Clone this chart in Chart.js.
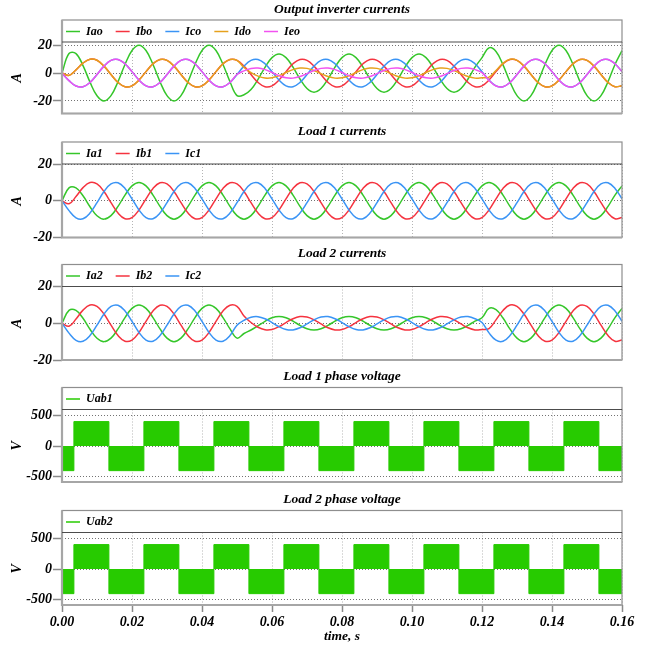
<!DOCTYPE html>
<html>
<head>
<meta charset="utf-8">
<script src="https://cdn.jsdelivr.net/npm/chart.js@4.4.0/dist/chart.umd.min.js"></script>
<style>
html, body { margin: 0; padding: 0; background: #fff; }
#wrap { position: relative; width: 649px; height: 648px; }
#wrap canvas { position: absolute; left: 0; top: 0; }
</style>
</head>
<body>
<div id="wrap">
<canvas id="p1" width="649" height="648"></canvas>
<canvas id="p2" width="649" height="648"></canvas>
<canvas id="p3" width="649" height="648"></canvas>
<canvas id="p4" width="649" height="648"></canvas>
<canvas id="p5" width="649" height="648"></canvas>
</div>
<script>
// currents, one sample every 2 ms (0 .. 0.16 s)
var ia1 = [
    0, 7.02, 7.0, 2.69, -3.24, -8.14, -10, -8.09, -3.09, 3.09,
    8.09, 10, 8.09, 3.09, -3.09, -8.09, -10, -8.09, -3.09, 3.09,
    8.09, 10, 8.09, 3.09, -3.09, -8.09, -10, -8.09, -3.09, 3.09,
    8.09, 10, 8.09, 3.09, -3.09, -8.09, -10, -8.09, -3.09, 3.09,
    8.09, 10, 8.09, 3.09, -3.09, -8.09, -10, -8.09, -3.09, 3.09,
    8.09, 10, 8.09, 3.09, -3.09, -8.09, -10, -8.09, -3.09, 3.09,
    8.09, 10, 8.09, 3.09, -3.09, -8.09, -10, -8.09, -3.09, 3.09,
    8.09, 10, 8.09, 3.09, -3.09, -8.09, -10, -8.09, -3.09, 3.09,
    8.09
];
var ib1 = [
    0, -1.64, 2.28, 7.14, 9.95, 9.2, 5, -1.05, -6.69, -9.78,
    -9.14, -5, 1.05, 6.69, 9.78, 9.14, 5, -1.05, -6.69, -9.78,
    -9.14, -5, 1.05, 6.69, 9.78, 9.14, 5, -1.05, -6.69, -9.78,
    -9.14, -5, 1.05, 6.69, 9.78, 9.14, 5, -1.05, -6.69, -9.78,
    -9.14, -5, 1.05, 6.69, 9.78, 9.14, 5, -1.05, -6.69, -9.78,
    -9.14, -5, 1.05, 6.69, 9.78, 9.14, 5, -1.05, -6.69, -9.78,
    -9.14, -5, 1.05, 6.69, 9.78, 9.14, 5, -1.05, -6.69, -9.78,
    -9.14, -5, 1.05, 6.69, 9.78, 9.14, 5, -1.05, -6.69, -9.78,
    -9.14
];
var ic1 = [
    0, -5.38, -9.28, -9.83, -6.71, -1.05, 5, 9.14, 9.78, 6.69,
    1.05, -5, -9.14, -9.78, -6.69, -1.05, 5, 9.14, 9.78, 6.69,
    1.05, -5, -9.14, -9.78, -6.69, -1.05, 5, 9.14, 9.78, 6.69,
    1.05, -5, -9.14, -9.78, -6.69, -1.05, 5, 9.14, 9.78, 6.69,
    1.05, -5, -9.14, -9.78, -6.69, -1.05, 5, 9.14, 9.78, 6.69,
    1.05, -5, -9.14, -9.78, -6.69, -1.05, 5, 9.14, 9.78, 6.69,
    1.05, -5, -9.14, -9.78, -6.69, -1.05, 5, 9.14, 9.78, 6.69,
    1.05, -5, -9.14, -9.78, -6.69, -1.05, 5, 9.14, 9.78, 6.69,
    1.05
];
var ia2 = [
    0, 7.02, 7.0, 2.69, -3.24, -8.14, -10, -8.09, -3.09, 3.09,
    8.09, 10, 8.09, 3.09, -3.09, -8.09, -10, -8.09, -3.09, 3.09,
    8.09, 10, 8.09, 3.09, -3.09, -8.09, -5.58, -3.68, -1.40, 1.05,
    2.99, 3.7, 2.99, 1.14, -1.14, -2.99, -3.7, -2.99, -1.14, 1.14,
    2.99, 3.7, 2.99, 1.14, -1.14, -2.99, -3.7, -2.99, -1.14, 1.14,
    2.99, 3.7, 2.99, 1.14, -1.14, -2.99, -3.7, -2.99, -1.14, 1.14,
    2.99, 8.12, 7.40, 2.83, -3.18, -8.09, -10, -8.09, -3.09, 3.09,
    8.09, 10, 8.09, 3.09, -3.09, -8.09, -10, -8.09, -3.09, 3.09,
    8.09
];
var ib2 = [
    0, -1.64, 2.28, 7.14, 9.95, 9.2, 5, -1.05, -6.69, -9.78,
    -9.14, -5, 1.05, 6.69, 9.78, 9.14, 5, -1.05, -6.69, -9.78,
    -9.14, -5, 1.05, 6.69, 9.78, 9.14, 3.97, 0.39, -2.19, -3.51,
    -3.38, -1.85, 0.39, 2.48, 3.62, 3.38, 1.85, -0.39, -2.48, -3.62,
    -3.38, -1.85, 0.39, 2.48, 3.62, 3.38, 1.85, -0.39, -2.48, -3.62,
    -3.38, -1.85, 0.39, 2.48, 3.62, 3.38, 1.85, -0.39, -2.48, -3.62,
    -3.38, -2.88, 1.83, 6.98, 9.88, 9.14, 5, -1.05, -6.69, -9.78,
    -9.14, -5, 1.05, 6.69, 9.78, 9.14, 5, -1.05, -6.69, -9.78,
    -9.14
];
var ic2 = [
    0, -5.38, -9.28, -9.83, -6.71, -1.05, 5, 9.14, 9.78, 6.69,
    1.05, -5, -9.14, -9.78, -6.69, -1.05, 5, 9.14, 9.78, 6.69,
    1.05, -5, -9.14, -9.78, -6.69, -1.05, 1.61, 3.29, 3.59, 2.48,
    0.39, -1.85, -3.38, -3.62, -2.48, -0.39, 1.85, 3.38, 3.62, 2.48,
    0.39, -1.85, -3.38, -3.62, -2.48, -0.39, 1.85, 3.38, 3.62, 2.48,
    0.39, -1.85, -3.38, -3.62, -2.48, -0.39, 1.85, 3.38, 3.62, 2.48,
    0.39, -5.24, -9.23, -9.81, -6.69, -1.05, 5, 9.14, 9.78, 6.69,
    1.05, -5, -9.14, -9.78, -6.69, -1.05, 5, 9.14, 9.78, 6.69,
    1.05
];
// common leg of the inverter
var iao = [
    0, 14.04, 14.0, 5.38, -6.48, -16.28, -20, -16.18, -6.18, 6.18,
    16.18, 20, 16.18, 6.18, -6.18, -16.18, -20, -16.18, -6.18, 6.18,
    16.18, 20, 16.18, 6.18, -6.18, -16.18, -15.58, -11.77, -4.49, 4.14,
    11.08, 13.7, 11.08, 4.23, -4.23, -11.08, -13.7, -11.08, -4.23, 4.23,
    11.08, 13.7, 11.08, 4.23, -4.23, -11.08, -13.7, -11.08, -4.23, 4.23,
    11.08, 13.7, 11.08, 4.23, -4.23, -11.08, -13.7, -11.08, -4.23, 4.23,
    11.08, 18.12, 15.49, 5.92, -6.27, -16.18, -20, -16.18, -6.18, 6.18,
    16.18, 20, 16.18, 6.18, -6.18, -16.18, -20, -16.18, -6.18, 6.18,
    16.18
];
// the other inverter legs carry the load phase currents: Ibo=Ib1, Ico=Ic1, Ido=Ib2, Ieo=Ic2

// phase voltage blocks: switching instants and levels (same for both loads)
var uabTimes = [0, 0.0034, 0.0134, 0.0234, 0.0334, 0.0434, 0.0534, 0.0634, 0.0734,
    0.0834, 0.0934, 0.1034, 0.1134, 0.1234, 0.1334, 0.1434, 0.1534, 0.16];
var uabLevels = [-400, 400, -400, 400, -400, 400, -400, 400, -400,
    400, -400, 400, -400, 400, -400, 400, -400, -400];

var ampTicks = [-20, 0, 20];
var voltTicks = [-500, 0, 500];
var timeTicks = [0, 0.02, 0.04, 0.06, 0.08, 0.10, 0.12, 0.14, 0.16];

var times = ia1.map(function (v, i) { return (i * 2) / 1000; });

var FONT = "'Liberation Serif', 'Times New Roman', serif";
var GREEN = '#35c62a';
var RED = '#f5333f';
var BLUE = '#3a94f5';
var ORANGE = '#e6a11c';
var MAGENTA = '#f252f0';
var FILLGREEN = '#27cb00';

// draws the grey box round legend + plot, the separator line and the legend row
var frameLegend = {
    id: 'frameLegend',
    afterDraw: function (chart) {
        var ctx = chart.ctx;
        var a = chart.chartArea;
        var top = a.top - 22;
        ctx.save();
        ctx.lineWidth = 1.2;
        ctx.strokeStyle = '#8e8e8e';
        ctx.strokeRect(a.left, top, a.right - a.left, a.bottom - top);
        ctx.lineWidth = 2.2;
        ctx.strokeStyle = '#a6a6a6';
        ctx.beginPath();
        ctx.moveTo(a.left, top);
        ctx.lineTo(a.left, a.bottom + 1);
        ctx.moveTo(a.left, a.bottom);
        ctx.lineTo(a.right, a.bottom);
        ctx.stroke();
        ctx.lineWidth = 1.2;
        ctx.strokeStyle = '#4c4c4c';
        ctx.beginPath();
        ctx.moveTo(a.left, a.top);
        ctx.lineTo(a.right, a.top);
        ctx.stroke();

        ctx.font = 'italic bold 12px ' + FONT;
        ctx.textBaseline = 'middle';
        ctx.textAlign = 'left';
        var x = a.left + 4;
        var y = a.top - 10.5;
        chart.data.datasets.forEach(function (ds) {
            ctx.strokeStyle = ds.borderColor;
            ctx.lineWidth = 1.5;
            ctx.beginPath();
            ctx.moveTo(x, y);
            ctx.lineTo(x + 14, y);
            ctx.stroke();
            ctx.fillStyle = '#000';
            ctx.fillText(ds.label, x + 20, y);
            x += 20 + ctx.measureText(ds.label).width + 13;
        });
        ctx.restore();
    }
};

function boldItalic(size, lh) {
    var f = { family: FONT, size: size, weight: 'bold', style: 'italic' };
    if (lh) {
        f.lineHeight = lh;
    }
    return f;
}

function makePanel(canvasId, p) {
    var last = !!p.xTitle;
    var xH = last ? 41 : 0;
    var xScale = {
        type: 'linear',
        min: 0,
        max: 0.16,
        afterBuildTicks: function (s) { s.ticks = timeTicks.map(function (v) { return { value: v }; }); },
        afterFit: function (s) { s.height = xH; },
        ticks: {
            display: last,
            color: '#000',
            font: boldItalic(14),
            padding: 1.5,
            maxRotation: 0,
            callback: function (v) { return Number(v).toFixed(2); }
        },
        grid: {
            color: '#b4b4b4',
            lineWidth: 1,
            drawTicks: last,
            tickLength: 7,
            tickColor: '#8a8a8a',
            tickWidth: 1.5,
            tickBorderDash: []
        },
        border: { display: false, dash: [1, 2] },
        title: {
            display: last,
            text: p.xTitle || '',
            color: '#000',
            font: boldItalic(13.5, '14px'),
            padding: { top: 0, bottom: 2.3 }
        }
    };
    var yScale = {
        min: p.yMin,
        max: p.yMax,
        afterBuildTicks: function (s) { s.ticks = p.yTicks.map(function (v) { return { value: v }; }); },
        afterFit: function (s) { s.width = 62; },
        ticks: {
            color: '#000',
            font: boldItalic(14),
            padding: 1,
            callback: function (v) { return String(v); }
        },
        grid: {
            color: '#737373',
            lineWidth: 1,
            tickLength: 9,
            tickColor: '#8a8a8a',
            tickWidth: 1.5,
            tickBorderDash: []
        },
        border: { display: false, dash: [1, 2] },
        title: {
            display: true,
            text: p.yTitle,
            color: '#000',
            font: boldItalic(14, '16px'),
            padding: { top: 9.5, bottom: 0 }
        }
    };
    return new Chart(document.getElementById(canvasId), {
        type: 'line',
        data: { labels: times, datasets: p.datasets },
        options: {
            responsive: false,
            animation: false,
            events: [],
            layout: { padding: { top: p.sep - 43, bottom: 648 - p.bottom - xH, left: 0, right: 27 } },
            elements: {
                point: { radius: 0 },
                line: { borderWidth: 1.5, tension: 0.4 }
            },
            plugins: {
                legend: { display: false },
                tooltip: { enabled: false },
                title: {
                    display: true,
                    text: p.title,
                    fullSize: false,
                    color: '#000',
                    font: boldItalic(13.5, '14px'),
                    padding: { top: 3.5, bottom: 25.5 }
                }
            },
            scales: { x: xScale, y: yScale }
        },
        plugins: [frameLegend]
    });
}

function line(label, data, color, order) {
    return { label: label, data: data, borderColor: color, backgroundColor: color, order: order, fill: false };
}

function block(label) {
    return {
        label: label,
        data: uabTimes.map(function (t, i) { return { x: t, y: uabLevels[i] }; }),
        borderColor: FILLGREEN,
        backgroundColor: FILLGREEN,
        borderWidth: 1,
        stepped: true,
        tension: 0,
        fill: 'origin'
    };
}

makePanel('p1', {
    title: 'Output inverter currents', yTitle: 'A', sep: 42, bottom: 113.5,
    yMin: -29, yMax: 22.3, yTicks: ampTicks,
    datasets: [
        line('Iao', iao, GREEN, 4),
        line('Ibo', ib1, RED, 3),
        line('Ico', ic1, BLUE, 2),
        line('Ido', ib2, ORANGE, 1),
        line('Ieo', ic2, MAGENTA, 0)
    ]
});

makePanel('p2', {
    title: 'Load 1 currents', yTitle: 'A', sep: 164, bottom: 237.5,
    yMin: -20, yMax: 20, yTicks: ampTicks,
    datasets: [
        line('Ia1', ia1, GREEN, 2),
        line('Ib1', ib1, RED, 1),
        line('Ic1', ic1, BLUE, 0)
    ]
});

makePanel('p3', {
    title: 'Load 2 currents', yTitle: 'A', sep: 286.5, bottom: 360,
    yMin: -20, yMax: 20, yTicks: ampTicks,
    datasets: [
        line('Ia2', ia2, GREEN, 2),
        line('Ib2', ib2, RED, 1),
        line('Ic2', ic2, BLUE, 0)
    ]
});

makePanel('p4', {
    title: 'Load 1 phase voltage', yTitle: 'V', sep: 409.5, bottom: 482,
    yMin: -585, yMax: 597, yTicks: voltTicks,
    datasets: [block('Uab1')]
});

makePanel('p5', {
    title: 'Load 2 phase voltage', yTitle: 'V', sep: 532.5, bottom: 605,
    yMin: -585, yMax: 597, yTicks: voltTicks, xTitle: 'time, s',
    datasets: [block('Uab2')]
});
</script>
</body>
</html>
